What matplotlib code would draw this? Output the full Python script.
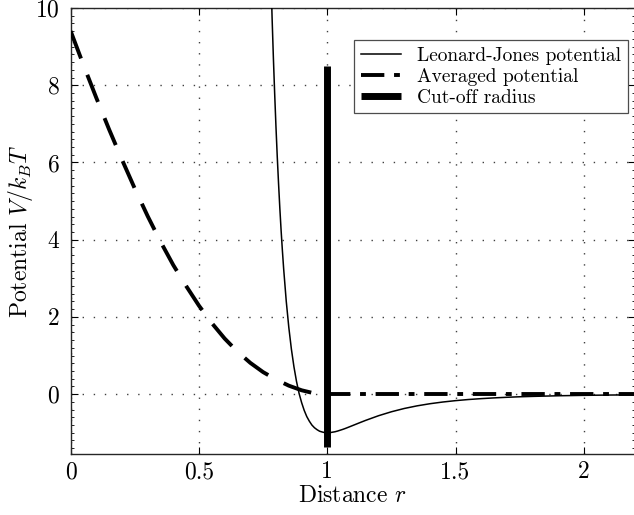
import matplotlib
matplotlib.use("Agg")
import matplotlib.pyplot as plt
from matplotlib.ticker import MultipleLocator

plt.rcParams['font.family'] = ['cmr10', 'DejaVu Serif']
plt.rcParams['mathtext.fontset'] = 'cm'
plt.rcParams['axes.formatter.use_mathtext'] = True

# Leonard-Jones potential
lj_r = [0.775, 0.785, 0.79, 0.795, 0.80, 0.805, 0.81, 0.815, 0.82, 0.825, 0.83, 0.84,
        0.85, 0.86, 0.87, 0.88, 0.89, 0.90, 0.91, 0.92, 0.93, 0.94, 0.95, 0.96, 0.97,
        0.98, 0.99, 1.00, 1.01, 1.03, 1.04, 1.06, 1.07, 1.08, 1.10, 1.13, 1.15, 1.20,
        1.25, 1.30, 1.35, 1.40, 1.45, 1.50, 1.55, 1.60, 1.65, 1.70, 1.75, 1.80, 1.90,
        2.00, 2.10, 2.20]
lj_v = [12.07, 9.72, 8.69, 7.77, 6.92, 6.15, 5.46, 4.82, 4.24, 3.72, 3.24, 2.41,
        1.73, 1.17, 0.71, 0.33, 0.02, -0.22, -0.42, -0.58, -0.70, -0.80, -0.87, -0.92, -0.96,
        -0.98, -0.996, -1.00, -0.997, -0.974, -0.956, -0.913, -0.889, -0.863, -0.810, -0.730, -0.678, -0.558,
        -0.456, -0.371, -0.303, -0.248, -0.204, -0.168, -0.139, -0.116, -0.097, -0.081, -0.068, -0.058, -0.042,
        -0.031, -0.023, -0.018]

# Averaged potential
avg_r = [0.0, 0.05, 0.10, 0.15, 0.20, 0.25, 0.30, 0.35, 0.40, 0.45, 0.50, 0.55, 0.60,
         0.65, 0.70, 0.75, 0.80, 0.85, 0.90, 0.95, 1.00, 1.20, 1.40, 1.60, 1.80, 2.00, 2.20]
avg_v = [9.40, 8.52, 7.67, 6.85, 6.07, 5.32, 4.61, 3.95, 3.34, 2.80, 2.29, 1.84, 1.44,
         1.10, 0.81, 0.57, 0.38, 0.22, 0.10, 0.02, 0.0, 0.0, 0.0, 0.0, 0.0, 0.0, 0.0]
avg_split = 20  # index where the curve reaches zero

# Cut-off radius
cut_r = [1.0, 1.0]
cut_v = [-1.38, 8.5]

x_ticks = [0, 0.5, 1, 1.5, 2]
x_ticklabels = ['0', '0.5', '1', '1.5', '2']
y_ticks = [0, 2, 4, 6, 8, 10]

fig = plt.figure(figsize=(6.34, 5.15), dpi=100)
W, H = 634, 515
ax = fig.add_axes([70.7 / W, (H - 454) / H, (635.2 - 70.7) / W, (454 - 8) / H])

ax.plot(lj_r, lj_v, color='black', lw=1.1, label='Leonard-Jones potential', zorder=3)
ax.plot(avg_r[:avg_split + 1], avg_v[:avg_split + 1], color='black', lw=2.8,
        linestyle=(0, (7.5, 4.5)), zorder=3)
ax.plot(avg_r[avg_split:], avg_v[avg_split:], color='black', lw=2.8,
        linestyle=(0, (6, 2.5, 1.5, 2.5)), label='Averaged potential', zorder=3)
ax.plot(cut_r, cut_v, color='black', lw=5, solid_capstyle='butt',
        label='Cut-off radius', zorder=4)

ax.set_xlim(0, 2.2)
ax.set_ylim(-1.55, 10)
ax.set_xticks(x_ticks)
ax.set_xticklabels(x_ticklabels)
ax.set_yticks(y_ticks)
ax.yaxis.set_minor_locator(MultipleLocator(0.2))

ax.tick_params(which='both', direction='in', top=True, right=True, labelsize=17)
ax.tick_params(which='major', length=5, width=0.8)
ax.tick_params(which='minor', length=2.5, width=0.6)
ax.tick_params(axis='x', which='minor', bottom=False, top=False)
ax.tick_params(axis='y', pad=8)
ax.tick_params(axis='x', pad=5)

ax.grid(True, which='major', color='0.25', linestyle=(0, (1, 7)), lw=1.0)
for s in ax.spines.values():
    s.set_linewidth(1.0)
    s.set_color('0.15')

ax.set_xlabel('Distance $r$', fontsize=17, labelpad=1)
ax.set_ylabel('Potential $V/k_BT$', fontsize=17, labelpad=0)

leg = ax.legend(loc='upper right', bbox_to_anchor=(1 - 7.5 / 564.5, 1 - 32 / 446),
                borderaxespad=0, fontsize=14, frameon=True, fancybox=False,
                handlelength=2.1, handletextpad=0.8, labelspacing=0.15,
                borderpad=0.35)
leg.get_frame().set_edgecolor('0.3')
leg.get_frame().set_linewidth(0.9)
leg.get_frame().set_alpha(1)

fig.savefig('out.png', dpi=100)
